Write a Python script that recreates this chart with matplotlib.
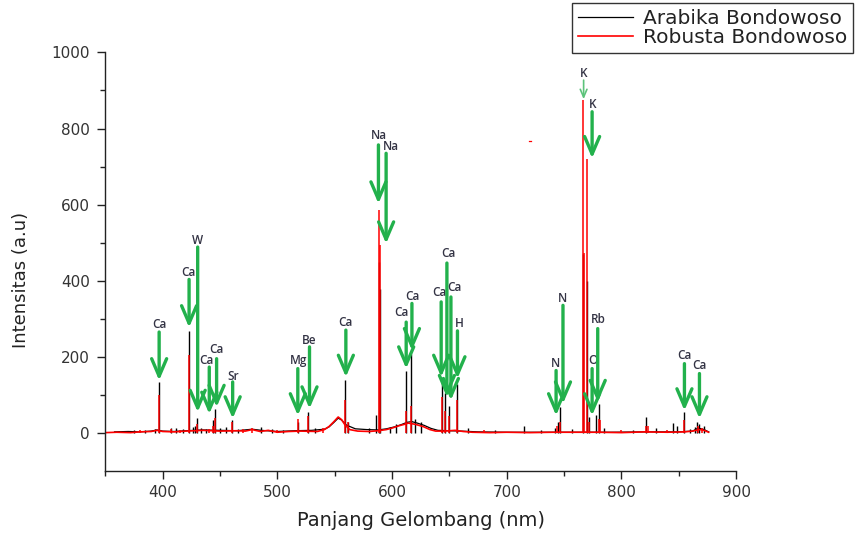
import numpy as np
import matplotlib.pyplot as plt

plt.rcParams['font.family'] = ['DejaVu Sans']

## baseline knots (nm, intensity)
red_base_nm = [350, 360, 372, 380, 390, 395, 400, 410, 420, 435, 450, 465, 472, 478,
               485, 492, 500, 510, 520, 535, 541, 545, 549, 553, 556, 559, 563, 570,
               580, 588, 595, 600, 606, 611, 614, 620, 627, 633, 638, 645, 655, 662,
               670, 685, 700, 720, 740, 760, 780, 800, 820, 840, 855, 862, 868, 872, 876]
red_base_val = [2, 3, 2, 4, 5, 8, 5, 4, 6, 8, 6, 7, 6, 10,
                5, 8, 3, 5, 6, 5, 10, 18, 30, 43, 36, 22, 10, 6,
                5, 7, 10, 14, 20, 24, 27, 24, 18, 10, 6, 6, 8, 5,
                3, 2, 3, 2, 3, 3, 3, 2, 4, 3, 4, 6, 10, 8, 3]

black_base_nm = [358, 370, 380, 390, 395, 400, 410, 420, 435, 450, 465, 478, 486,
                 500, 515, 530, 541, 545, 549, 553, 556, 560, 568, 578, 588, 595,
                 602, 608, 613, 617, 622, 628, 634, 640, 650, 660, 675, 700, 730,
                 760, 790, 820, 850, 862, 867, 872, 876]
black_base_val = [4, 5, 4, 6, 9, 6, 5, 7, 9, 8, 7, 11, 8,
                  5, 7, 8, 11, 17, 28, 40, 35, 22, 12, 10, 9, 12,
                  17, 23, 29, 31, 27, 21, 13, 8, 7, 6, 4, 3, 3,
                  3, 3, 4, 4, 6, 14, 10, 4]

## emission lines (nm, peak intensity)
black_peak_nm = [375.0, 385.0, 393.4, 396.8, 407.0, 412.0, 418.0, 422.7, 426.0, 428.0,
                 430.2, 433.0, 438.0, 443.5, 445.5, 450.0, 455.0, 460.7, 466.0, 486.0,
                 495.0, 505.0, 518.0, 526.5, 533.0, 559.0, 561.5, 580.0, 586.0, 589.0,
                 589.6, 598.0, 603.0, 612.3, 616.2, 620.0, 625.0, 643.9, 646.3, 649.4,
                 656.3, 666.0, 690.0, 715.0, 730.0, 742.0, 744.3, 746.8, 757.0, 766.5,
                 769.9, 772.0, 777.4, 780.0, 785.0, 810.0, 821.6, 830.0, 844.6, 848.0,
                 854.2, 860.0, 864.0, 866.2, 868.0, 872.0]
black_peak_val = [8, 10, 12, 135, 15, 14, 12, 270, 18, 20,
                  41, 15, 12, 35, 63, 14, 16, 34, 12, 18,
                  12, 10, 30, 56, 15, 141, 30, 15, 47, 450,
                  380, 18, 25, 165, 209, 38, 30, 143, 106, 73,
                  130, 14, 10, 20, 10, 15, 30, 69, 12, 470,
                  400, 43, 47, 78, 14, 8, 42, 15, 26, 20,
                  56, 12, 18, 30, 25, 20]

red_peak_nm = [380.0, 396.8, 407.0, 415.0, 422.7, 430.2, 440.0, 443.5, 445.5, 460.7,
               470.0, 478.0, 500.0, 518.0, 526.5, 540.0, 559.0, 561.5, 589.0, 589.6,
               612.3, 616.2, 643.9, 646.3, 649.4, 656.3, 680.0, 744.0, 746.8, 766.5,
               767.0, 769.9, 772.0, 780.0, 781.4, 800.0, 821.6, 823.0, 840.0, 854.2,
               866.5, 870.0]
red_peak_val = [8, 100, 12, 10, 207, 25, 12, 20, 40, 30,
                12, 14, 10, 38, 45, 14, 87, 30, 586, 494,
                60, 73, 95, 60, 45, 87, 8, 20, 30, 875,
                473, 719, 30, 39, 34, 8, 20, 20, 10, 34,
                20, 15]

## stray red mark in the original figure
stray_nm = [719.6, 721.2]
stray_val = [767, 767]

## element annotations: label, arrow x (nm), arrow tail, arrow head, label x, label y
elem_label = ['Ca', 'Ca', 'W', 'Ca', 'Ca', 'Sr', 'Mg', 'Be', 'Ca', 'Na', 'Na', 'Ca',
              'Ca', 'Ca', 'Ca', 'Ca', 'H', 'N', 'N', 'K', 'K', 'O', 'Rb', 'Ca', 'Ca']
arrow_nm = [396.9, 423.0, 430.5, 440.6, 447.0, 461.0, 517.8, 528.0, 559.7, 588.1,
            594.8, 612.3, 617.3, 642.8, 647.8, 651.3, 657.0, 743.0, 749.0, 767.0,
            774.4, 774.4, 779.3, 854.9, 868.0]
arrow_tail = [266, 404, 489, 174, 196, 135, 170, 227, 271, 757,
              735, 292, 341, 345, 447, 358, 269, 165, 336, 927,
              844, 170, 275, 183, 157]
arrow_head = [139, 278, 56, 51, 69, 39, 47, 65, 148, 603,
              498, 170, 218, 148, 95, 87, 144, 47, 78, 877,
              722, 47, 82, 60, 39]
label_nm = [396.9, 422.7, 430.5, 437.8, 446.5, 461.5, 518.3, 528.0, 559.7, 588.1,
            599.2, 608.5, 618.0, 641.4, 649.0, 654.0, 658.5, 742.5, 749.0, 767.0,
            774.6, 774.8, 780.0, 855.2, 868.0]
label_val = [286, 421, 507, 192, 220, 150, 192, 244, 292, 783,
             754, 316, 358, 369, 472, 384, 288, 184, 355, 945,
             862, 192, 299, 205, 179]

green = '#22b14c'

fig = plt.figure(figsize=(8.6, 5.35), dpi=100)
ax = fig.add_axes([0.1225, 0.1187, 0.7335, 0.7835])

## Arabika (black) first, Robusta (red) on top
ax.plot(black_base_nm, black_base_val, color='black', lw=0.9, label='Arabika Bondowoso')
ax.vlines(black_peak_nm, 0, black_peak_val, color='black', lw=1.0)
ax.plot(red_base_nm, red_base_val, color='#ff0000', lw=1.2, label='Robusta Bondowoso')
ax.vlines(red_peak_nm, 0, red_peak_val, color='#ff0000', lw=1.1)
ax.plot(stray_nm, stray_val, color='#ff0000', lw=0.9)

## green arrows with element names
for i in range(len(elem_label)):
    thin = elem_label[i] == 'K' and arrow_tail[i] > 900
    ax.annotate('', xy=(arrow_nm[i], arrow_head[i]), xytext=(arrow_nm[i], arrow_tail[i]),
                arrowprops=dict(arrowstyle='->,head_length=0.7,head_width=0.3',
                                color='#5cc37a' if thin else green,
                                lw=1.2 if thin else 2.4,
                                mutation_scale=8 if thin else 18,
                                shrinkA=0, shrinkB=0))
    ax.text(label_nm[i], label_val[i], elem_label[i], ha='center', va='center',
            fontsize=8.5, fontweight='semibold', color='#333344',
            family=['Open Sans', 'DejaVu Sans'])

ax.set_xlim(350, 900)
ax.set_ylim(-100, 1000)
ax.set_xticks([400, 500, 600, 700, 800, 900])
ax.set_xticks([350, 450, 550, 650, 750, 850], minor=True)
ax.set_yticks([0, 200, 400, 600, 800, 1000])
ax.set_yticks([100, 300, 500, 700, 900], minor=True)

ax.spines['top'].set_visible(False)
ax.spines['right'].set_visible(False)
for s in ['left', 'bottom']:
    ax.spines[s].set_linewidth(1.0)
    ax.spines[s].set_color('#222222')

ax.tick_params(axis='both', which='major', direction='out', length=6, width=1.0,
               colors='#222222', labelcolor='#333333', labelsize=11)
ax.tick_params(axis='both', which='minor', direction='out', length=3.5, width=1.0,
               colors='#222222')
ax.tick_params(axis='x', which='major', pad=3.5)
ax.tick_params(axis='y', which='major', pad=5)

ax.set_xlabel('Panjang Gelombang (nm)', fontsize=14, color='#222222', labelpad=8)
ax.set_ylabel('Intensitas (a.u)', fontsize=13, color='#222222')
ax.yaxis.set_label_coords(-0.119, 0.457)

leg = fig.legend(loc='upper right', bbox_to_anchor=(853 / 860, 1 - 3 / 535),
                 fontsize=14.5, frameon=True, fancybox=False, edgecolor='black',
                 handlelength=2.7, handletextpad=0.5, labelspacing=0.0,
                 borderpad=0.3, borderaxespad=0)
leg.get_frame().set_linewidth(1.0)
for t in leg.get_texts():
    t.set_color('#222222')

plt.savefig('out.png', dpi=100)
plt.close()
